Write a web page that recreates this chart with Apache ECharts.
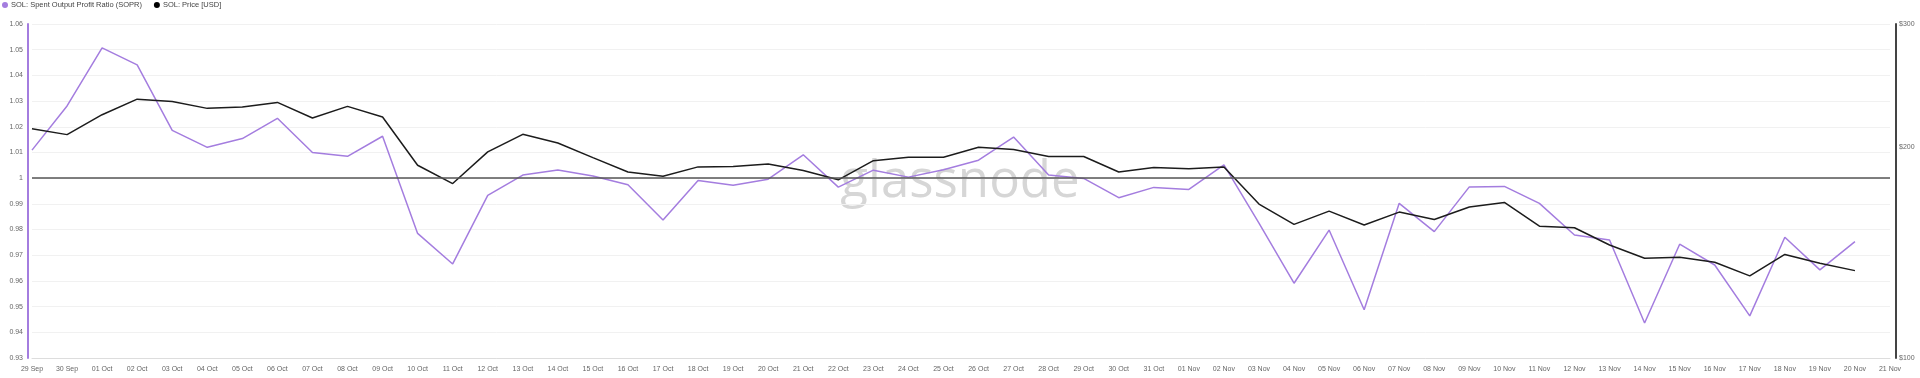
<!DOCTYPE html>
<html>
<head>
<meta charset="utf-8">
<script src="https://cdn.jsdelivr.net/npm/echarts@6/dist/echarts.min.js"></script>
<style>
html,body{margin:0;padding:0;background:#fff;}
#chart{width:1920px;height:378px;}
</style>
</head>
<body>
<div id="chart"></div>
<script>
const categories = ["29 Sep","30 Sep","01 Oct","02 Oct","03 Oct","04 Oct","05 Oct","06 Oct","07 Oct","08 Oct","09 Oct","10 Oct","11 Oct","12 Oct","13 Oct","14 Oct","15 Oct","16 Oct","17 Oct","18 Oct","19 Oct","20 Oct","21 Oct","22 Oct","23 Oct","24 Oct","25 Oct","26 Oct","27 Oct","28 Oct","29 Oct","30 Oct","31 Oct","01 Nov","02 Nov","03 Nov","04 Nov","05 Nov","06 Nov","07 Nov","08 Nov","09 Nov","10 Nov","11 Nov","12 Nov","13 Nov","14 Nov","15 Nov","16 Nov","17 Nov","18 Nov","19 Nov","20 Nov","21 Nov"];

const soprValues = [1.0109,1.0281,1.0507,1.0441,1.0186,1.0120,1.0154,1.0233,1.0100,1.0085,1.0163,0.9785,0.9666,0.9933,1.0012,1.0032,1.0008,0.9974,0.9837,0.9991,0.9972,0.9996,1.0091,0.9965,1.0031,1.0004,1.0033,1.0070,1.0160,1.0012,0.9999,0.9924,0.9964,0.9956,1.0052,0.9825,0.9591,0.9798,0.9488,0.9902,0.9792,0.9966,0.9968,0.9902,0.9779,0.9759,0.9436,0.9743,0.9662,0.9464,0.9770,0.9643,0.9753];

const priceValues = [212.6,208.5,222.6,234.3,232.5,227.3,228.3,231.8,220.2,228.8,220.9,188.5,177.5,197.0,208.7,202.8,193.3,184.4,181.8,187.5,187.7,189.3,185.3,179.7,191.4,193.5,193.6,200.0,198.5,194.0,194.0,184.4,187.1,186.3,187.5,165.9,155.2,162.1,154.9,161.6,157.7,164.3,166.8,154.3,153.5,145.0,138.8,139.3,137.0,131.0,140.6,136.6,133.3];

const priceTicks = [100,200,300];

const seriesNames = ["SOL: Spent Output Profit Ratio (SOPR)","SOL: Price [USD]"];
const purple = '#a47ddf';
const dark = '#1c1c1c';

const chart = echarts.init(document.getElementById('chart'));
chart.setOption({
  animation: false,
  backgroundColor: '#ffffff',
  textStyle: { fontFamily: 'Liberation Sans, Arial, sans-serif' },
  legend: {
    left: 0, top: 0, padding: [1, 2],
    itemWidth: 6, itemHeight: 6, itemGap: 12,
    icon: 'circle',
    textStyle: { fontSize: 7.5, color: '#444', padding: [0, 0, 0, -2] },
    data: [
      { name: seriesNames[0], itemStyle: { color: purple } },
      { name: seriesNames[1], itemStyle: { color: '#000' } }
    ]
  },
  grid: { left: 32, right: 30, top: 24, bottom: 20, containLabel: false },
  graphic: [{
    type: 'text', left: 'center', top: 157, z: -10, silent: true,
    style: { text: 'glassnode', fontSize: 51, fontFamily: 'Open Sans, sans-serif', fontWeight: 500, fill: '#d6d6d6' }
  }],
  xAxis: {
    type: 'category', data: categories, boundaryGap: false,
    axisLine: { lineStyle: { color: '#dddddd', width: 1 } },
    axisTick: { show: false },
    axisLabel: { interval: 0, fontSize: 7, color: '#666', margin: 8 },
    splitLine: { show: false }
  },
  yAxis: [{
    type: 'value', min: 0.93, max: 1.06, interval: 0.01, position: 'left', offset: 4,
    axisLine: { show: true, lineStyle: { color: purple, width: 2 } },
    axisTick: { show: false },
    axisLabel: { fontSize: 7, color: '#666', margin: 5 },
    splitLine: { show: true, lineStyle: { color: '#f1f1f1', width: 1 } }
  }, {
    type: 'log', logBase: 10, min: 100, max: 300, position: 'right', offset: 6,
    axisLine: { show: true, lineStyle: { color: '#444', width: 2 } },
    axisTick: { show: false },
    axisLabel: { fontSize: 7, color: '#666', margin: 3, customValues: priceTicks, formatter: v => '$' + Math.round(v) },
    splitLine: { show: false }
  }],
  series: [{
    name: seriesNames[0], type: 'line', yAxisIndex: 0, data: soprValues,
    showSymbol: false, symbol: 'none',
    lineStyle: { color: purple, width: 1.5 }, itemStyle: { color: purple },
    z: 3,
    markLine: {
      silent: true, symbol: 'none', label: { show: false },
      lineStyle: { color: '#555', width: 1.5, type: 'solid' },
      data: [{ yAxis: 1 }]
    }
  }, {
    name: seriesNames[1], type: 'line', yAxisIndex: 1, data: priceValues,
    showSymbol: false, symbol: 'none',
    lineStyle: { color: dark, width: 1.5 }, itemStyle: { color: '#000' },
    z: 4
  }]
});
</script>
</body>
</html>
